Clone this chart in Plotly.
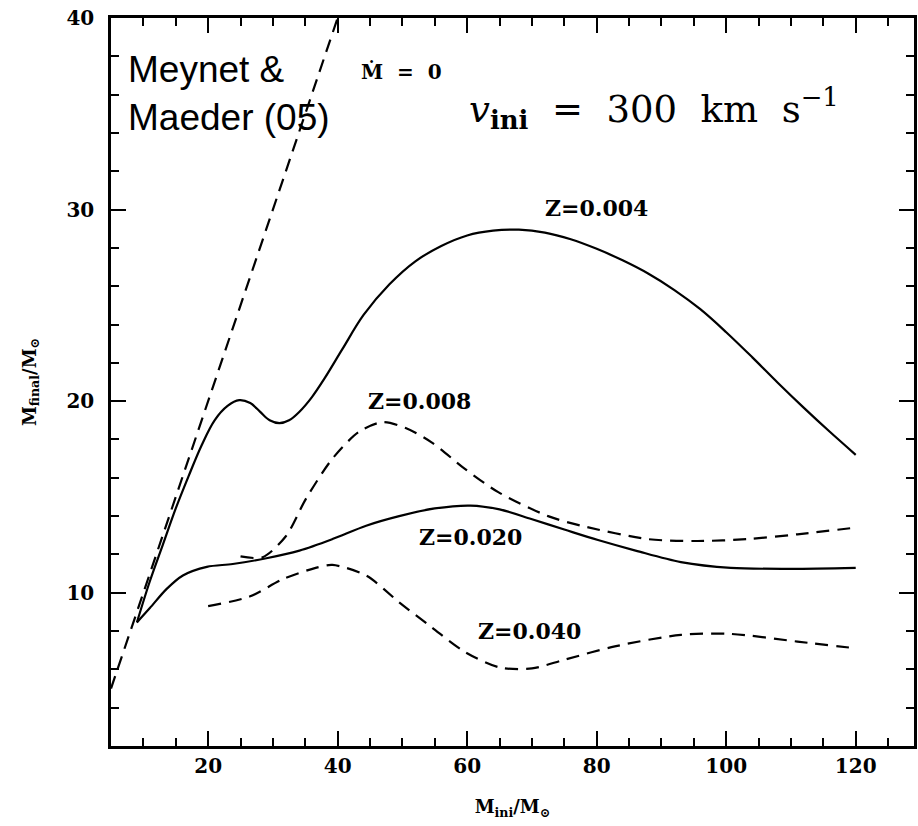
import plotly.graph_objects as go

# ---- data ----
mdot0_x = [5, 40]
mdot0_y = [5, 40]

z004_x = [9, 11, 13, 15, 17, 19, 21, 23, 24.8, 26.5, 28, 29.5, 31, 32.5, 34.1, 36, 38, 40.7, 44, 48, 52, 56, 60, 64, 68, 72, 76, 80, 84, 88, 92, 96, 100, 104, 108, 112, 116, 120]
z004_y = [8.45, 10.6, 12.5, 14.4, 16.1, 17.7, 19.0, 19.75, 20.05, 19.9, 19.45, 19.0, 18.85, 19.0, 19.45, 20.2, 21.2, 22.7, 24.5, 26.1, 27.3, 28.1, 28.65, 28.9, 28.95, 28.8, 28.45, 27.95, 27.35, 26.65, 25.8, 24.8, 23.6, 22.3, 20.95, 19.65, 18.4, 17.2]

z008_x = [25, 28.4, 32, 35.1, 39.2, 43.3, 46.9, 50.5, 54.5, 59.7, 64.8, 72.5, 77.6, 87.9, 95.6, 103.3, 111, 120]
z008_y = [11.9, 11.85, 12.95, 14.9, 17.0, 18.4, 18.9, 18.6, 17.85, 16.45, 15.25, 14.0, 13.5, 12.8, 12.7, 12.8, 13.05, 13.4]

z020_x = [9, 11, 13.6, 16.1, 19.8, 23.8, 29, 34.1, 39.2, 44.4, 49.5, 55, 60.5, 65, 69.9, 75, 80.2, 86, 93, 100.7, 110, 120]
z020_y = [8.45, 9.2, 10.2, 10.9, 11.35, 11.5, 11.8, 12.2, 12.8, 13.5, 14.0, 14.4, 14.55, 14.35, 13.85, 13.3, 12.75, 12.2, 11.6, 11.3, 11.25, 11.3]

z040_x = [20, 26.4, 31.5, 36.6, 39.2, 44.4, 49.5, 54.5, 59.7, 65, 70, 75, 82.8, 93, 100.7, 111, 120]
z040_y = [9.3, 9.8, 10.7, 11.3, 11.45, 10.9, 9.5, 8.2, 6.9, 6.1, 6.05, 6.5, 7.2, 7.8, 7.85, 7.45, 7.1]

x_ticks = [20, 40, 60, 80, 100, 120]
y_ticks = [10, 20, 30, 40]

labels = ["Z=0.004", "Z=0.008", "Z=0.020", "Z=0.040"]
label_x = [80, 52.7, 60.5, 69.6]
label_y = [30.1, 20.0, 12.9, 8.0]

SERIF = "DejaVu Serif"
line_w = 2.2
dash = "13px,8px"

fig = go.Figure()
fig.add_trace(go.Scatter(x=mdot0_x, y=mdot0_y, mode="lines",
                         line=dict(color="black", width=line_w, dash=dash)))
for xs, ys, dsh, sm in [(z004_x, z004_y, "solid", 1.0), (z008_x, z008_y, dash, 0.8),
                        (z020_x, z020_y, "solid", 0.9), (z040_x, z040_y, dash, 0.8)]:
    fig.add_trace(go.Scatter(x=xs, y=ys, mode="lines",
                             line=dict(color="black", width=line_w, dash=dsh,
                                       shape="spline", smoothing=sm)))

for t, lx, ly in zip(labels, label_x, label_y):
    fig.add_annotation(x=lx, y=ly, text="<b>%s</b>" % t, showarrow=False,
                       font=dict(family=SERIF, size=22, color="black"),
                       xanchor="center", yanchor="middle")

fig.add_annotation(x=49.8, y=37.2, text="<b>Ṁ\u00a0\u00a0=\u00a0\u00a00</b>", showarrow=False,
                   font=dict(family=SERIF, size=20, color="black"),
                   xanchor="center", yanchor="middle")

fig.add_annotation(x=60.0, y=35.3,
                   text="<i>v</i><sub><b>ini</b></sub>\u00a0\u00a0=\u00a0\u00a0300\u00a0\u00a0km\u00a0\u00a0s<sup>−1</sup>",
                   showarrow=False, font=dict(family=SERIF, size=37, color="black"),
                   xanchor="left", yanchor="middle")

fig.add_annotation(x=7.3, y=38.5, text="Meynet &<br>Maeder (05)", showarrow=False,
                   font=dict(family="Liberation Sans, Arial", size=37, color="black"),
                   xanchor="left", yanchor="top", align="left")

axis_common = dict(
    showgrid=False, zeroline=False, showline=True, linecolor="black", linewidth=2.5,
    mirror="ticks", ticks="inside", ticklen=15, tickwidth=2, tickcolor="black",
    tickfont=dict(family=SERIF, size=20, color="black", weight="bold"),
)

fig.update_xaxes(range=[5, 129], tickvals=x_ticks,
                 minor=dict(dtick=5, tick0=0, ticks="inside", ticklen=8, tickwidth=2, tickcolor="black"),
                 title=dict(text="<b>M<sub>ini</sub>/M<sub>⊙</sub></b>",
                            font=dict(family=SERIF, size=18, color="black"), standoff=24),
                 **axis_common)
fig.update_yaxes(range=[2, 40], tickvals=y_ticks,
                 minor=dict(dtick=2, tick0=0, ticks="inside", ticklen=8, tickwidth=2, tickcolor="black"),
                 title=dict(text="<b>M<sub>final</sub>/M<sub>⊙</sub></b>",
                            font=dict(family=SERIF, size=18, color="black"), standoff=26),
                 ticklabelstandoff=10,
                 **axis_common)

fig.update_layout(
    width=918, height=826, showlegend=False,
    margin=dict(l=111, r=1, t=18, b=80),
    paper_bgcolor="white", plot_bgcolor="white",
)

fig.write_html("out.html")
